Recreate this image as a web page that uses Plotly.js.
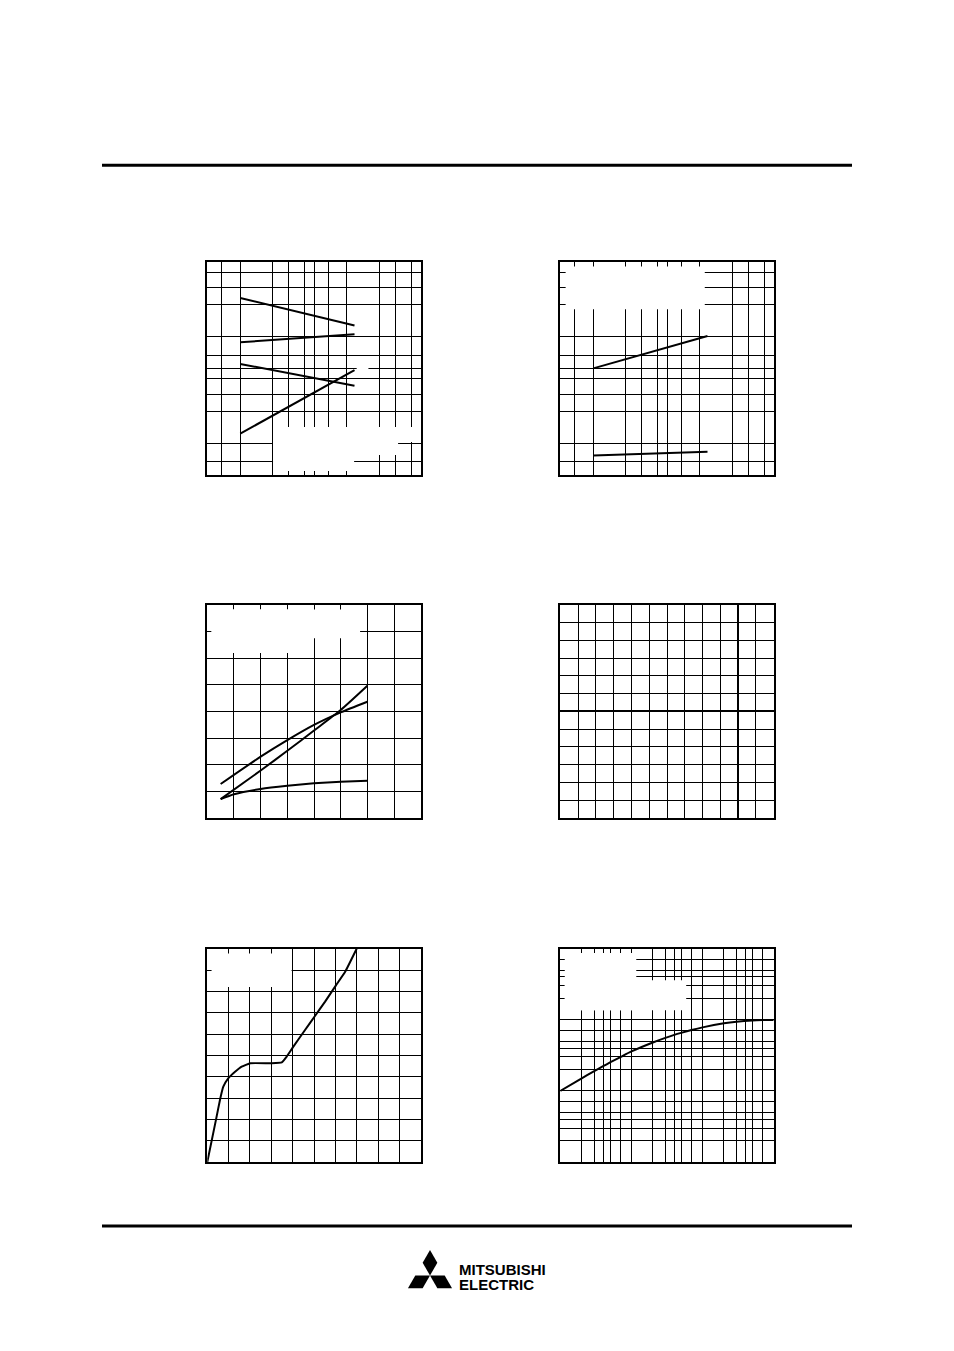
<!DOCTYPE html>
<html>
<head>
<meta charset="utf-8">
<script src="https://cdn.plot.ly/plotly-3.0.1.min.js"></script>
<style>
html, body { margin: 0; padding: 0; background: #fff; }
#page { width: 954px; height: 1351px; }
</style>
</head>
<body>
<div id="page"></div>
<script>
// grid values
const sweepGrid = [0.5, 0.7, 1, 2, 3, 4, 5, 7, 10, 20, 30];
const decadeGrid = [1, 2, 3, 4, 5, 7, 10, 20, 30, 40, 50, 70, 100, 200, 300, 400, 500, 700, 1000];

// panel 1 / 2 (log-log, both axes reversed), straight lines end to end
const sweepX = [20, 1.7];
const p1LineA = [0.87, 1.58];
const p1LineB = [2.27, 1.91];
const p1LineC = [3.62, 5.79];
const p1LineD = [16.3, 4.13];
const p2LineE = [3.98, 1.98];
const p2LineF = [26.2, 24.1];

// panel 3
const p3X = [0.5, 2, 3, 4, 5, 6];
const p3G = [1.275, 2.30, 2.92, 3.49, 3.96, 4.36];
const p3H = [0.71, 1.78, 2.52, 3.28, 4.05, 4.96];
const p3XLow = [0.5, 1, 2, 3, 4, 5, 6];
const p3I = [0.71, 0.89, 1.09, 1.21, 1.30, 1.36, 1.40];

// panel 5
const p5X = [0, 0.41, 0.61, 0.75, 0.98, 1.30, 1.61, 2.02, 3.02, 3.49, 3.72, 4.0, 4.58, 5.02, 5.52, 6.02, 6.46, 7.0];
const p5Y = [0, 2.0, 2.99, 3.53, 3.92, 4.23, 4.47, 4.63, 4.63, 4.67, 4.94, 5.36, 6.19, 6.81, 7.52, 8.27, 8.92, 10];

// panel 6
const p6X = [1, 2, 3, 4, 5, 7, 10, 20, 30, 40, 50, 70, 100, 200, 300, 500, 700, 1000];
const p6Y = [10, 15.05, 18.96, 22.25, 25.1, 29.9, 35.9, 48.0, 55.7, 61.3, 65.5, 71.8, 78.2, 89.2, 94.0, 97.9, 99.1, 99.5];

const W = 954, H = 1351;
const px = v => v / W;
const py = v => 1 - v / H;

const frame = {
    showline: true, linewidth: 2, linecolor: '#000', mirror: 'allticks',
    ticks: 'inside', ticklen: 4, tickwidth: 1, tickcolor: '#000',
    showticklabels: false, showgrid: true, gridcolor: '#000', gridwidth: 1,
    zeroline: false, fixedrange: true
};
const axis = (domain, anchor, extra) => Object.assign({}, frame, { domain, anchor }, extra);

const colL = [px(207.3), px(420.7)];
const colR = [px(560.3), px(773.7)];
const rowTop = [py(475), py(261.7)];
const rowMid = [py(818), py(604.7)];
const rowBot = [py(1162), py(948.7)];

const sweepAxX = { type: 'log', range: [1.61, -0.39], tickmode: 'array', tickvals: sweepGrid };
const sweepAxY = { type: 'log', range: [1.6, -0.4], tickmode: 'array', tickvals: sweepGrid };
const lin8 = { range: [0, 8], dtick: 1, tick0: 0 };
const lin10 = { range: [0, 10], dtick: 1, tick0: 0 };
const decAx = { type: 'log', range: [0, 3], tickmode: 'array', tickvals: decadeGrid };

const layout = {
    width: W, height: H,
    margin: { l: 0, r: 0, t: 0, b: 0 },
    paper_bgcolor: '#fff', plot_bgcolor: '#fff',
    showlegend: false,
    xaxis: axis(colL, 'y', sweepAxX),
    yaxis: axis(rowTop, 'x', sweepAxY),
    xaxis2: axis(colR, 'y2', sweepAxX),
    yaxis2: axis(rowTop, 'x2', sweepAxY),
    xaxis3: axis(colL, 'y3', lin8),
    yaxis3: axis(rowMid, 'x3', lin8),
    xaxis4: axis(colR, 'y4', { range: [-10, 2], dtick: 1, tick0: 0, zeroline: true, zerolinewidth: 2, zerolinecolor: '#000' }),
    yaxis4: axis(rowMid, 'x4', { range: [-6, 6], dtick: 1, tick0: 0, zeroline: true, zerolinewidth: 2, zerolinecolor: '#000' }),
    xaxis5: axis(colL, 'y5', lin10),
    yaxis5: axis(rowBot, 'x5', lin10),
    xaxis6: axis(colR, 'y6', decAx),
    yaxis6: axis(rowBot, 'x6', decAx),
    shapes: [],
    annotations: []
};

// white patches where the legend text sat; fractions of the frame, y from the top
const toData = (ax, f) => {
    const v = ax.range[0] + f * (ax.range[1] - ax.range[0]);
    return ax.type === 'log' ? Math.pow(10, v) : v;
};
const blank = (n, fx0, fx1, fy0, fy1) => {
    const xa = layout[n === 1 ? 'xaxis' : 'xaxis' + n];
    const ya = layout[n === 1 ? 'yaxis' : 'yaxis' + n];
    layout.shapes.push({
        type: 'rect', layer: 'between',
        xref: n === 1 ? 'x' : 'x' + n, yref: n === 1 ? 'y' : 'y' + n,
        x0: toData(xa, fx0), x1: toData(xa, fx1),
        y0: toData(ya, 1 - fy1), y1: toData(ya, 1 - fy0),
        fillcolor: '#fff', line: { width: 0 }
    });
};
blank(1, 0.308, 0.969, 0.775, 0.845);
blank(1, 0.308, 0.894, 0.775, 0.906);
blank(1, 0.308, 0.688, 0.775, 0.981);
blank(1, 0.700, 0.755, 0.489, 0.512);
blank(2, 0.025, 0.677, 0.023, 0.223);
blank(3, 0.020, 0.716, 0.023, 0.157);
blank(3, 0.020, 0.434, 0.023, 0.227);
blank(5, 0.020, 0.395, 0.023, 0.180);
blank(6, 0.021, 0.356, 0.020, 0.289);
blank(6, 0.021, 0.590, 0.148, 0.289);

// page rules
[165.2, 1226].forEach(y => layout.shapes.push({
    type: 'line', xref: 'paper', yref: 'paper', layer: 'above',
    x0: px(102), x1: px(852), y0: py(y), y1: py(y),
    line: { color: '#000', width: 3 }
}));

// three diamonds
const cx = 430, cy = 1275.5, s = 14.7;
const diamonds = [
    [[0, 0], [0.5, -0.866], [0, -1.732], [-0.5, -0.866]],
    [[0, 0], [-0.5, 0.866], [-1.5, 0.866], [-1, 0]],
    [[0, 0], [0.5, 0.866], [1.5, 0.866], [1, 0]]
];
diamonds.forEach(d => {
    const path = d.map((p, i) => (i ? 'L' : 'M') + px(cx + p[0] * s) + ',' + py(cy + p[1] * s)).join(' ') + ' Z';
    layout.shapes.push({
        type: 'path', xref: 'paper', yref: 'paper', layer: 'above',
        path, fillcolor: '#000', line: { width: 0 }
    });
});
[['MITSUBISHI', 1269.5], ['ELECTRIC', 1284.3]].forEach(([t, y]) => layout.annotations.push({
    text: t, xref: 'paper', yref: 'paper', x: px(456.5), y: py(y),
    xanchor: 'left', yanchor: 'middle', showarrow: false,
    font: { family: 'Liberation Sans, Arial, sans-serif', size: 15, weight: 'bold', color: '#000' }
}));

const line = (x, y, n, extra) => Object.assign({
    type: 'scatter', mode: 'lines', x, y,
    xaxis: n === 1 ? 'x' : 'x' + n, yaxis: n === 1 ? 'y' : 'y' + n,
    line: { color: '#000', width: 2 }, hoverinfo: 'skip'
}, extra || {});
const smooth = k => ({ line: { color: '#000', width: 2, shape: 'spline', smoothing: k } });

const traces = [
    line(sweepX, p1LineA, 1),
    line(sweepX, p1LineB, 1),
    line(sweepX, p1LineC, 1),
    line(sweepX, p1LineD, 1),
    line(sweepX, p2LineE, 2),
    line(sweepX, p2LineF, 2),
    line(p3X, p3G, 3, smooth(0.6)),
    line(p3X, p3H, 3, smooth(0.6)),
    line(p3XLow, p3I, 3, smooth(0.6)),
    line([], [], 4),
    line(p5X, p5Y, 5, smooth(0.3)),
    line(p6X, p6Y, 6, smooth(0.8))
];

Plotly.newPlot('page', traces, layout, { staticPlot: true, displayModeBar: false });
</script>
</body>
</html>
